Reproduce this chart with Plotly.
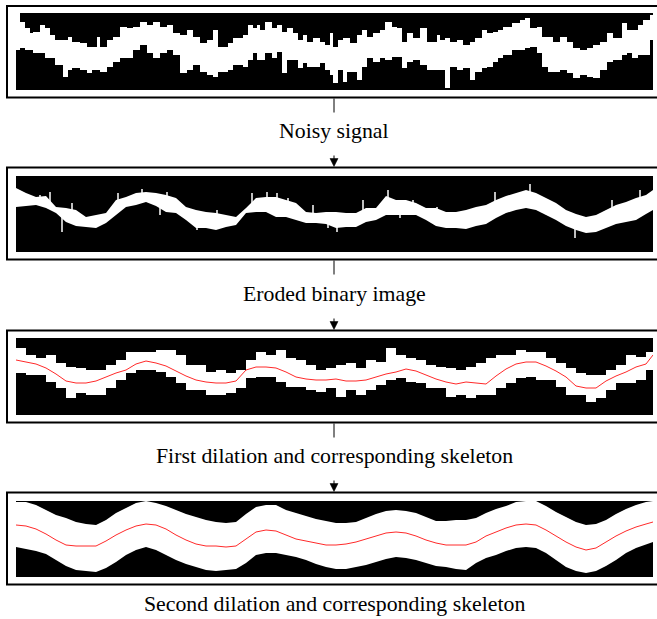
import numpy as np
import plotly.graph_objects as go

W, H = 657, 619

# ---------------- data (image rows from the top of each image, columns from its left edge) ----------------
# Panel 1: noisy signal, step segments
P1_COL = [0, 4, 9, 14, 17, 24, 29, 34, 39, 47,
          52, 56, 64, 71, 76, 81, 84, 91, 97, 104,
          111, 117, 124, 131, 137, 144, 151, 157, 164, 171,
          177, 184, 191, 197, 202, 212, 217, 227, 232, 237,
          241, 244, 249, 256, 261, 266, 271, 277, 282, 287,
          291, 297, 304, 309, 314, 317, 322, 327, 331, 334,
          341, 346, 351, 357, 364, 369, 376, 381, 386, 391,
          397, 404, 411, 421, 424, 429, 434, 441, 447, 454,
          459, 466, 471, 477, 482, 487, 496, 504, 509, 514,
          521, 526, 532, 537, 544, 551, 557, 564, 571, 577,
          584, 591, 597, 606, 611, 616, 622, 627, 634]
P1_TOP = [0, 9, 15, 20, 19, 12, 15, 22, 27, 27,
          24, 29, 30, 34, 34, 24, 34, 27, 24, 14,
          15, 14, 9, 12, 9, 14, 12, 20, 22, 17,
          24, 30, 27, 17, 34, 30, 25, 22, 12, 15,
          12, 17, 9, 15, 12, 19, 15, 20, 27, 22,
          29, 25, 29, 32, 20, 34, 27, 25, 25, 30,
          22, 17, 24, 20, 17, 9, 14, 15, 29, 20,
          25, 15, 29, 22, 27, 25, 29, 27, 32, 29,
          25, 17, 20, 19, 17, 14, 10, 7, 5, 15,
          14, 24, 24, 29, 24, 29, 35, 37, 35, 32,
          29, 20, 25, 10, 17, 17, 12, 7, 2]
P1_BOT = [37, 35, 37, 37, 40, 40, 45, 45, 52, 64,
          57, 55, 57, 60, 57, 57, 59, 54, 49, 45,
          45, 37, 32, 40, 45, 40, 37, 42, 60, 57,
          52, 59, 62, 64, 59, 57, 52, 54, 47, 40,
          47, 47, 40, 45, 39, 60, 47, 47, 55, 50,
          54, 54, 50, 57, 62, 70, 57, 69, 59, 59,
          67, 54, 45, 49, 45, 47, 44, 44, 55, 49,
          47, 52, 57, 57, 57, 75, 54, 57, 55, 67,
          59, 55, 54, 49, 45, 42, 37, 37, 35, 34,
          40, 54, 59, 59, 57, 60, 65, 62, 64, 65,
          57, 49, 47, 42, 40, 45, 42, 42, 27]

# Panels 2-4 share one column grid
COLS = [0, 10, 20, 30, 40, 50, 60, 70, 80, 90, 100, 110, 120, 130, 140, 150,
        160, 170, 180, 190, 200, 210, 220, 230, 240, 250, 260, 270, 280, 290,
        300, 310, 320, 330, 340, 350, 360, 370, 380, 390, 400, 410, 420, 430,
        440, 450, 460, 470, 480, 490, 500, 510, 520, 530, 540, 550, 560, 570,
        580, 590, 600, 610, 620, 630, 637]

# Panel 2: eroded binary image
P2_TOP = [12, 17, 21, 20, 31, 32, 34, 41, 39, 37, 24, 21, 17, 16, 17, 19, 22, 31, 34, 36,
          37, 39, 41, 32, 22, 21, 21, 24, 27, 36, 37, 36, 36, 37, 37, 32, 32, 20, 24, 24,
          27, 32, 32, 36, 36, 34, 31, 29, 24, 20, 17, 14, 17, 22, 27, 34, 38, 41, 39, 34,
          29, 26, 22, 19, 14]
P2_BOT = [31, 30, 29, 32, 37, 46, 50, 51, 52, 47, 39, 31, 29, 26, 30, 36, 37, 44, 52, 52,
          54, 51, 49, 37, 36, 36, 41, 41, 44, 47, 47, 48, 52, 51, 51, 46, 44, 39, 39, 39,
          39, 44, 50, 52, 52, 53, 50, 48, 42, 37, 34, 32, 34, 39, 44, 50, 54, 57, 56, 52,
          48, 46, 44, 38, 34]
SPIKE2_COL = [24, 34, 56, 102, 126, 151, 201, 236, 251, 261, 272, 297, 347, 372, 397, 421,
              479, 514, 596, 624, 46, 144, 181, 312, 321, 384, 559]
SPIKE2_TIP = [19, 16, 27, 17, 13, 16, 34, 17, 16, 17, 22, 29, 24, 14, 24, 31,
              16, 8, 24, 14, 56, 39, 54, 52, 56, 42, 62]

# Panel 3: first dilation + skeleton
P3_TOP = [10, 17, 20, 17, 25, 29, 30, 32, 32, 27, 22, 14, 14, 14, 12, 12, 17, 27, 27, 34,
          32, 35, 32, 22, 14, 17, 12, 20, 22, 27, 32, 30, 27, 25, 30, 22, 24, 10, 17, 20,
          22, 27, 29, 30, 32, 29, 25, 20, 17, 17, 12, 14, 14, 20, 25, 30, 35, 37, 37, 32,
          27, 17, 19, 14, 4]
P3_BOT = [35, 37, 37, 44, 50, 60, 55, 57, 57, 50, 42, 35, 32, 32, 34, 39, 45, 52, 52, 57,
          57, 55, 50, 40, 39, 39, 44, 49, 49, 52, 54, 50, 59, 52, 57, 52, 47, 42, 40, 44,
          45, 50, 50, 59, 57, 60, 57, 57, 50, 45, 40, 39, 42, 42, 49, 57, 57, 64, 60, 52,
          45, 45, 42, 32, 25]
P3_SKEL = [22, 24, 26, 30, 36, 43, 45, 45, 43, 39, 35, 32, 26, 23, 25, 28, 33, 38, 42, 44,
           45, 45, 43, 32, 29, 29, 30, 34, 39, 41, 42, 42, 41, 43, 43, 42, 39, 36, 34, 31,
           33, 37, 41, 44, 46, 44, 45, 46, 38, 31, 26, 24, 24, 28, 33, 39, 48, 50, 50, 43,
           38, 34, 29, 26, 17]

# Panel 4: second dilation + skeleton
P4_TOP = [1, 1, 4, 9, 14, 17, 21, 23, 24, 19, 12, 7, 2, 0, 2, 5, 9, 13, 16, 19,
          21, 22, 21, 13, 6, 4, 4, 9, 12, 15, 18, 20, 22, 22, 21, 17, 13, 10, 9, 10,
          12, 16, 20, 20, 19, 19, 17, 12, 8, 5, 1, 0, 0, 5, 11, 16, 21, 24, 23, 19,
          13, 8, 4, 1, 0]
P4_BOT = [46, 48, 50, 53, 59, 65, 69, 70, 71, 67, 61, 54, 49, 46, 49, 54, 59, 63, 66, 69,
          70, 69, 68, 62, 54, 52, 52, 54, 56, 59, 63, 66, 68, 68, 66, 64, 61, 58, 56, 57,
          59, 62, 65, 66, 68, 69, 62, 57, 54, 50, 47, 46, 47, 52, 59, 66, 70, 72, 70, 65,
          59, 52, 47, 43, 41]
P4_SKEL = [24, 25, 28, 33, 39, 44, 45, 45, 45, 40, 34, 29, 25, 23, 24, 28, 34, 39, 43, 45,
           45, 46, 45, 38, 31, 29, 30, 34, 38, 40, 42, 44, 44, 43, 41, 38, 35, 32, 31, 32,
           35, 39, 42, 44, 44, 44, 41, 35, 31, 27, 24, 23, 24, 29, 35, 41, 46, 49, 47, 41,
           35, 30, 26, 23, 21]

CAPTIONS = ["Noisy signal", "Eroded binary image",
            "First dilation and corresponding skeleton",
            "Second dilation and corresponding skeleton"]

# ---------------- layout geometry (pixels) ----------------
IMG_X0, IMG_X1 = 16, 653
FRAME_X0, FRAME_X1 = 7, 680
PANELS = [
    dict(img=(13, 90), frame=(6, 97.5), cap=131),
    dict(img=(176, 252), frame=(167.5, 259.5), cap=294),
    dict(img=(338, 415), frame=(330.5, 422.5), cap=456),
    dict(img=(501, 577), frame=(492.5, 584.5), cap=604),
]
CX = 334
RED = "#ff2a2a"


def px(x):
    return x / W


def py(y):
    return 1 - y / H


fig = go.Figure()
layout = dict(width=W, height=H, margin=dict(l=0, r=0, t=0, b=0),
              paper_bgcolor="white", plot_bgcolor="rgba(0,0,0,0)",
              showlegend=False, shapes=[], annotations=[])

for i, p in enumerate(PANELS, start=1):
    sfx = "" if i == 1 else str(i)
    top, bot = p["img"]
    layout["xaxis" + sfx] = dict(domain=[px(IMG_X0), px(IMG_X1)], range=[0, IMG_X1 - IMG_X0],
                                 visible=False, fixedrange=True, anchor="y" + sfx)
    layout["yaxis" + sfx] = dict(domain=[py(bot), py(top)], range=[bot - top, 0],
                                 visible=False, fixedrange=True, anchor="x" + sfx)
    # black image
    layout["shapes"].append(dict(type="rect", xref="paper", yref="paper", layer="below",
                                 x0=px(IMG_X0), x1=px(IMG_X1), y0=py(bot), y1=py(top),
                                 fillcolor="black", line=dict(width=0)))
    # frame
    f0, f1 = p["frame"]
    layout["shapes"].append(dict(type="rect", xref="paper", yref="paper", layer="above",
                                 x0=px(FRAME_X0), x1=px(FRAME_X1), y0=py(f1), y1=py(f0),
                                 fillcolor="rgba(0,0,0,0)", line=dict(color="black", width=2)))
    # caption
    layout["annotations"].append(dict(text=CAPTIONS[i - 1], xref="paper", yref="paper",
                                      x=px(CX), y=py(p["cap"]), xanchor="center", yanchor="middle",
                                      showarrow=False,
                                      font=dict(family="Liberation Serif", size=21.8, color="black")))

# connectors and arrows
for a, b in zip(PANELS[:-1], PANELS[1:]):
    fb = a["frame"][1]
    ft = b["frame"][0]
    layout["shapes"].append(dict(type="line", xref="paper", yref="paper",
                                 x0=px(CX), x1=px(CX), y0=py(fb + 1), y1=py(fb + 15),
                                 line=dict(color="black", width=1)))
    layout["shapes"].append(dict(type="line", xref="paper", yref="paper",
                                 x0=px(CX), x1=px(CX), y0=py(ft - 12), y1=py(ft - 6),
                                 line=dict(color="black", width=1)))
    tip = ft - 1
    path = "M {},{} L {},{} L {},{} Z".format(px(CX - 4), py(tip - 8), px(CX + 4), py(tip - 8),
                                             px(CX), py(tip))
    layout["shapes"].append(dict(type="path", xref="paper", yref="paper", path=path,
                                 fillcolor="black", line=dict(color="black", width=0.5)))


def band(i, cols, top, bot, shape):
    sfx = "" if i == 1 else str(i)
    fig.add_trace(go.Scatter(x=cols, y=bot, mode="lines", line=dict(width=0, shape=shape),
                             xaxis="x" + sfx, yaxis="y" + sfx, hoverinfo="skip"))
    fig.add_trace(go.Scatter(x=cols, y=top, mode="lines", line=dict(width=0, shape=shape),
                             fill="tonexty", fillcolor="white",
                             xaxis="x" + sfx, yaxis="y" + sfx, hoverinfo="skip"))


# panel 1 (steps), close the last step at the right edge
c1 = P1_COL + [IMG_X1 - IMG_X0]
band(1, c1, P1_TOP + [P1_TOP[-1]], P1_BOT + [P1_BOT[-1]], "hv")

# panel 2 (band + thin spikes)
band(2, COLS, P2_TOP, P2_BOT, "linear")
mid2 = (np.array(P2_TOP) + np.array(P2_BOT)) / 2
sx, sy = [], []
for c, t in zip(SPIKE2_COL, SPIKE2_TIP):
    sx += [c, c, None]
    sy += [t, float(np.interp(c, COLS, mid2)), None]
fig.add_trace(go.Scatter(x=sx, y=sy, mode="lines", line=dict(color="white", width=1.5),
                         xaxis="x2", yaxis="y2", hoverinfo="skip"))

# panel 3
band(3, COLS, P3_TOP, P3_BOT, "hv")
fig.add_trace(go.Scatter(x=COLS, y=P3_SKEL, mode="lines", line=dict(color=RED, width=1),
                         xaxis="x3", yaxis="y3", hoverinfo="skip"))

# panel 4
band(4, COLS, P4_TOP, P4_BOT, "linear")
fig.add_trace(go.Scatter(x=COLS, y=P4_SKEL, mode="lines", line=dict(color=RED, width=1),
                         xaxis="x4", yaxis="y4", hoverinfo="skip"))

fig.update_layout(**layout)
fig.write_html("out.html", config=dict(displayModeBar=False))
